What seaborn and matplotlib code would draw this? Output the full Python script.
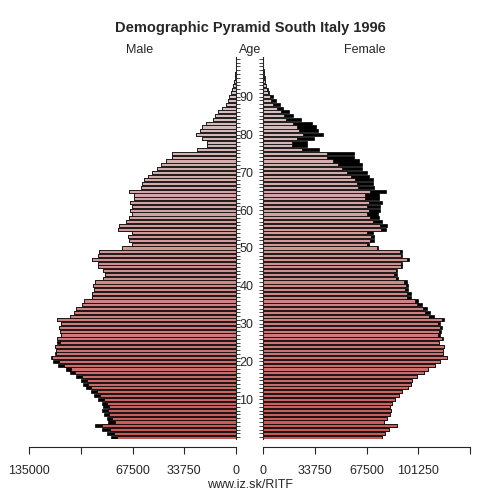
import numpy as np
import pandas as pd
import matplotlib
matplotlib.use('Agg')
import matplotlib.pyplot as plt
from matplotlib.colors import LinearSegmentedColormap
import seaborn as sns

# population by single year of age, 0..100
ages = list(range(101))

male = [81500, 84300, 87400, 91700, 83200, 84300, 86100, 87100, 86500, 87100,
        89700, 92300, 94800, 98100, 99600, 101300, 104600, 108200, 110800, 115800,
        119100, 120900, 118000, 117500, 118000, 116500, 116500, 114400, 114800, 115200,
        114400, 116500, 108000, 105600, 104100, 100400, 99100, 93700, 94100, 92300,
        93000, 91900, 86500, 85400, 86500, 89700, 90300, 93700, 89700, 89300,
        74300, 68000, 69800, 70200, 67600, 76700, 76300, 71900, 70000, 67600,
        69300, 68000, 68900, 66300, 66500, 69600, 62200, 61200, 60100, 57300,
        55000, 51400, 48900, 45600, 41900, 41500, 25200, 19100, 19100, 22000,
        25800, 23500, 22400, 19600, 15200, 13700, 11500, 8900, 6700, 5000,
        4400, 3300, 2400, 1800, 1100, 650, 400, 250, 150, 100, 50]

female = [77600, 79800, 82400, 87200, 79100, 80900, 82800, 83700, 82800, 83900,
          86100, 88900, 90400, 94800, 96300, 97400, 100600, 105200, 107800, 112400,
          115600, 119800, 117600, 117600, 118000, 114900, 117100, 115600, 115800, 116900,
          115600, 118200, 111500, 108900, 107100, 103500, 100900, 96500, 96300, 94800,
          94300, 93700, 87800, 87200, 87600, 90600, 90600, 95000, 90800, 90400,
          75000, 69300, 72400, 72600, 71500, 80200, 81000, 77400, 75800, 75200,
          76500, 76100, 77400, 75800, 75600, 80400, 72600, 71900, 71500, 69300,
          67600, 64700, 64300, 62600, 59500, 59300, 36700, 28900, 28900, 33500,
          39300, 36100, 34600, 31700, 24500, 19800, 17200, 13000, 11100, 8300,
          6700, 3900, 3000, 2000, 1100, 1000, 700, 500, 300, 200, 100]

x_ticks = [0, 33750, 67500, 101250, 135000]
left_labels = ['0', '33750', '67500', '', '135000']
right_labels = ['0', '33750', '67500', '101250', '']

df = pd.DataFrame({'age': ages, 'male': male, 'female': female})
df['common'] = df[['male', 'female']].min(axis=1)

cmap = LinearSegmentedColormap.from_list('age', ['#d94444', '#d98c8c', '#d8cccc'])

sns.set_style('white')
plt.rcParams['font.family'] = ['Liberation Sans', 'DejaVu Sans']

fig = plt.figure(figsize=(5, 5), dpi=100)
ax_m = fig.add_axes([0.058, 0.122, 0.414, 0.764])
ax_f = fig.add_axes([0.526, 0.122, 0.414, 0.764])

for ax, col in [(ax_m, 'male'), (ax_f, 'female')]:
    # black excess first, then the common part on top
    sns.barplot(data=df, x=col, y='age', orient='y', native_scale=True,
                color='black', width=0.82, edgecolor='black', linewidth=0.5,
                ax=ax)
    sns.barplot(data=df, x='common', y='age', orient='y', native_scale=True,
                hue='age', palette=cmap, hue_norm=(0, 100), legend=False,
                width=0.82, edgecolor='black', linewidth=0.5, ax=ax)
    ax.set_ylim(-0.5, 100.5)
    ax.set_xlabel('')
    ax.set_ylabel('')
    ax.set_xticks(x_ticks)
    for s in ['top']:
        ax.spines[s].set_visible(False)
    ax.spines['bottom'].set_position(('outward', 6))
    ax.spines['bottom'].set_bounds(0, 135000)
    ax.tick_params(axis='x', direction='out', length=5, width=0.8, labelsize=9,
                   bottom=True, pad=8)
    ax.set_yticks(range(10, 100, 10))
    ax.set_yticks(range(0, 101), minor=True)

ax_m.set_xlim(135000, 0)
ax_m.set_xticklabels(left_labels)
ax_m.spines['left'].set_visible(False)
ax_m.spines['right'].set_linewidth(0.8)
ax_m.yaxis.tick_right()
ax_m.tick_params(axis='y', which='both', direction='out', length=3, width=0.6,
                 right=True, left=False, labelright=False)

ax_f.set_xlim(0, 135000)
ax_f.set_xticklabels(right_labels)
ax_f.spines['right'].set_visible(False)
ax_f.spines['left'].set_linewidth(0.8)
ax_f.tick_params(axis='y', which='both', direction='out', length=3, width=0.6,
                 left=True, right=False, labelleft=True, labelsize=9, pad=4)

fig.text(0.5, 0.944, 'Demographic Pyramid South Italy 1996', ha='center',
         va='center', fontsize=10.5, fontweight='bold')
fig.text(0.28, 0.9, 'Male', ha='center', va='center', fontsize=9)
fig.text(0.5, 0.9, 'Age', ha='center', va='center', fontsize=9)
fig.text(0.73, 0.9, 'Female', ha='center', va='center', fontsize=9)
fig.text(0.5, 0.03, 'www.iz.sk/RITF', ha='center', va='center', fontsize=9)

fig.savefig('out.png', dpi=100)
